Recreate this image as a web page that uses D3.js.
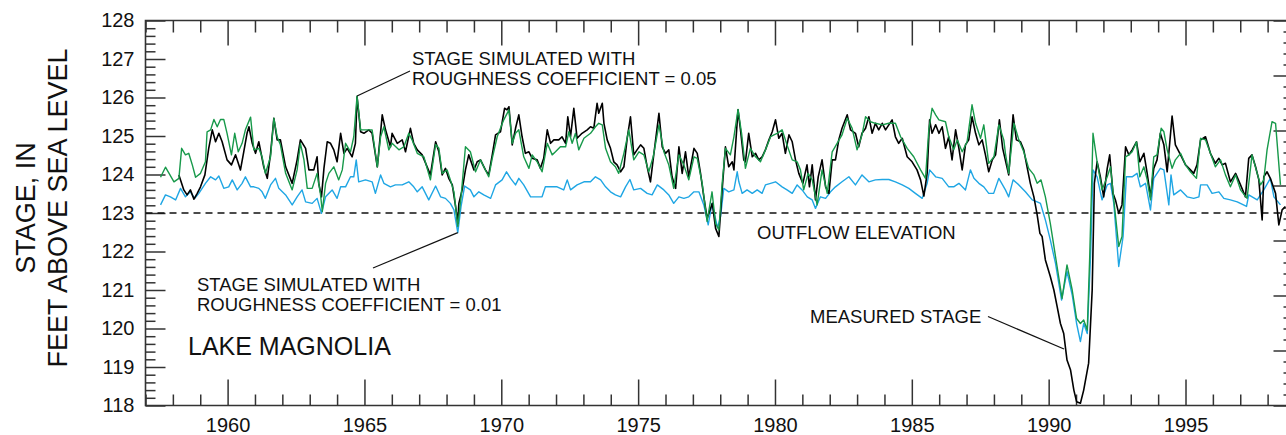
<!DOCTYPE html>
<html>
<head>
<meta charset="utf-8">
<script src="https://cdn.jsdelivr.net/npm/d3@7"></script>
<style>
  html, body { margin: 0; padding: 0; background: #fff; }
  svg { display: block; font-family: "Liberation Sans", Arial, Helvetica, sans-serif; }
</style>
</head>
<body>
<svg id="chart" width="1286" height="435"></svg>
<script>
// Lake Magnolia stage, measured and simulated, in feet above sea level.
// Each series is a list of [year, stage] pairs.

const measuredStage = [
  [1958.22,123.99],[1958.40,123.60],[1958.52,123.47],[1958.64,123.60],[1958.77,123.36],[1958.89,123.51],
  [1959.01,123.68],[1959.17,123.99],[1959.31,124.68],[1959.44,125.16],[1959.56,124.85],[1959.68,125.07],
  [1959.80,124.85],[1959.98,124.38],[1960.14,124.25],[1960.29,124.51],[1960.47,124.12],[1960.59,124.59],
  [1960.71,125.07],[1960.78,125.24],[1960.90,124.81],[1961.02,124.55],[1961.14,124.85],[1961.32,124.20],
  [1961.45,123.90],[1961.57,124.55],[1961.69,125.46],[1961.81,124.90],[1961.93,124.90],[1962.12,124.20],
  [1962.36,123.77],[1962.54,124.38],[1962.66,124.90],[1962.85,124.68],[1962.97,124.12],[1963.15,124.12],
  [1963.27,124.46],[1963.33,123.77],[1963.43,123.42],[1963.52,124.16],[1963.64,124.85],[1963.76,124.81],
  [1963.88,124.64],[1964.00,124.33],[1964.13,125.07],[1964.25,124.55],[1964.37,124.68],[1964.55,124.46],
  [1964.67,124.81],[1964.73,126.02],[1964.86,125.11],[1964.98,125.07],[1965.16,125.16],[1965.28,125.07],
  [1965.47,124.20],[1965.65,125.55],[1965.77,125.16],[1965.95,124.72],[1966.01,125.07],[1966.20,124.81],
  [1966.38,124.90],[1966.50,124.59],[1966.68,125.20],[1966.80,124.81],[1966.93,124.64],[1967.11,124.51],
  [1967.41,123.99],[1967.60,124.85],[1967.72,124.59],[1967.84,123.99],[1967.96,124.16],[1968.08,123.90],
  [1968.21,123.73],[1968.33,123.17],[1968.41,122.73],[1968.45,123.25],[1968.57,123.60],[1968.69,124.12],
  [1968.81,124.51],[1969.00,124.12],[1969.12,124.33],[1969.24,124.38],[1969.42,124.12],[1969.54,123.99],
  [1969.67,124.51],[1969.79,125.03],[1969.97,125.11],[1970.12,125.72],[1970.21,125.68],[1970.28,125.76],
  [1970.40,124.77],[1970.52,125.20],[1970.64,125.55],[1970.76,124.98],[1970.88,124.55],[1971.01,124.59],
  [1971.13,124.42],[1971.31,124.38],[1971.43,124.16],[1971.55,124.42],[1971.68,125.16],[1971.80,124.81],
  [1971.92,124.90],[1972.10,124.90],[1972.22,124.98],[1972.35,124.81],[1972.43,125.50],[1972.53,124.98],
  [1972.65,125.72],[1972.77,124.94],[1972.95,125.07],[1973.14,125.16],[1973.26,125.24],[1973.38,125.20],
  [1973.50,125.85],[1973.56,125.59],[1973.69,125.85],[1973.75,125.33],[1973.87,124.90],[1973.99,124.68],
  [1974.11,124.33],[1974.23,124.25],[1974.36,124.07],[1974.48,124.20],[1974.60,124.94],[1974.72,125.50],
  [1974.84,124.51],[1974.96,124.64],[1975.09,124.77],[1975.21,124.68],[1975.33,124.20],[1975.45,123.81],
  [1975.57,124.51],[1975.76,125.59],[1975.88,124.72],[1976.00,124.55],[1976.12,124.64],[1976.24,123.94],
  [1976.37,123.64],[1976.49,124.72],[1976.61,124.03],[1976.73,124.59],[1976.85,123.94],[1977.04,124.68],
  [1977.16,124.55],[1977.28,124.03],[1977.40,123.42],[1977.52,122.86],[1977.71,123.25],[1977.83,122.60],
  [1977.95,122.39],[1978.07,123.60],[1978.19,124.72],[1978.31,124.20],[1978.44,124.33],[1978.50,124.12],
  [1978.65,125.68],[1978.74,125.16],[1978.86,124.38],[1978.92,124.33],[1979.04,125.07],[1979.17,124.46],
  [1979.29,124.55],[1979.41,124.38],[1979.53,124.46],[1979.65,124.64],[1979.78,124.90],[1979.90,125.11],
  [1980.02,125.42],[1980.14,124.94],[1980.26,125.07],[1980.38,124.55],[1980.51,125.03],[1980.63,124.85],
  [1980.75,124.38],[1980.87,124.03],[1981.02,123.77],[1981.17,124.25],[1981.26,123.68],[1981.36,124.25],
  [1981.48,123.34],[1981.58,123.94],[1981.72,124.38],[1981.85,123.68],[1981.97,123.51],[1982.09,124.38],
  [1982.21,124.38],[1982.33,124.90],[1982.45,125.20],[1982.64,125.55],[1982.76,125.16],[1982.94,125.07],
  [1983.06,124.72],[1983.18,125.07],[1983.31,125.20],[1983.43,125.50],[1983.55,125.07],[1983.67,125.33],
  [1983.79,125.16],[1983.92,125.33],[1984.04,125.16],[1984.16,125.29],[1984.28,125.42],[1984.40,124.98],
  [1984.52,124.81],[1984.65,124.94],[1984.83,124.46],[1985.01,124.33],[1985.19,124.12],[1985.32,123.86],
  [1985.44,123.44],[1985.56,124.03],[1985.65,125.42],[1985.74,125.07],[1985.87,125.29],[1985.99,125.07],
  [1986.11,125.24],[1986.23,124.68],[1986.35,124.98],[1986.47,124.38],[1986.60,125.16],[1986.72,124.68],
  [1986.84,124.12],[1986.96,124.77],[1987.08,124.90],[1987.20,125.50],[1987.33,125.07],[1987.45,124.77],
  [1987.57,124.90],[1987.69,124.51],[1987.81,124.07],[1987.94,124.38],[1988.06,124.51],[1988.20,125.42],
  [1988.32,124.68],[1988.54,123.99],[1988.70,125.55],[1988.82,124.90],[1988.97,124.85],[1989.09,124.64],
  [1989.21,124.20],[1989.33,123.77],[1989.46,123.42],[1989.58,122.95],[1989.68,122.47],[1989.76,122.39],
  [1989.88,121.78],[1990.06,121.35],[1990.19,121.00],[1990.31,120.57],[1990.43,120.13],[1990.55,119.87],
  [1990.67,119.18],[1990.80,118.92],[1990.92,118.40],[1991.02,118.10],[1991.16,118.06],[1991.28,118.40],
  [1991.46,119.10],[1991.59,121.00],[1991.67,123.77],[1991.77,124.33],[1991.89,123.94],[1992.01,123.42],
  [1992.14,124.16],[1992.23,124.51],[1992.35,123.51],[1992.44,123.34],[1992.56,122.99],[1992.68,123.21],
  [1992.81,124.72],[1992.93,124.51],[1993.05,124.64],[1993.21,124.85],[1993.33,124.33],[1993.48,124.55],
  [1993.60,124.03],[1993.72,123.42],[1993.84,124.16],[1993.96,124.38],[1994.08,125.07],[1994.21,124.77],
  [1994.33,124.07],[1994.51,125.52],[1994.63,124.77],[1994.82,124.51],[1995.00,124.25],[1995.18,124.12],
  [1995.30,124.03],[1995.42,124.25],[1995.55,124.90],[1995.73,124.98],[1995.91,124.55],[1996.09,124.29],
  [1996.22,124.42],[1996.34,124.25],[1996.46,124.29],[1996.64,123.81],[1996.83,124.03],[1997.01,123.73],
  [1997.19,123.42],[1997.31,124.42],[1997.43,124.51],[1997.56,124.20],[1997.68,123.86],[1997.80,122.82],
  [1997.86,123.94],[1997.98,124.07],[1998.10,123.90],[1998.29,123.51],[1998.41,122.69],[1998.53,123.08],
  [1998.65,123.17]
];

// Simulated with roughness coefficient 0.05
const simulatedN005 = [
  [1957.55,123.93],[1957.73,124.19],[1958.04,123.81],[1958.22,123.90],[1958.32,124.68],[1958.46,124.51],
  [1958.58,124.55],[1958.71,124.25],[1958.83,123.93],[1959.01,124.03],[1959.19,124.33],[1959.25,125.11],
  [1959.38,125.16],[1959.50,125.43],[1959.62,125.24],[1959.74,125.43],[1959.86,125.43],[1959.98,125.07],
  [1960.14,124.51],[1960.26,125.07],[1960.39,124.59],[1960.53,124.81],[1960.65,125.16],[1960.84,125.49],
  [1960.96,124.64],[1961.14,124.68],[1961.26,124.46],[1961.38,124.03],[1961.57,124.46],[1961.69,125.46],
  [1961.81,124.98],[1961.93,124.77],[1962.12,124.03],[1962.36,123.60],[1962.54,124.12],[1962.66,124.81],
  [1962.79,124.38],[1962.91,123.64],[1963.09,123.64],[1963.27,124.03],[1963.39,123.51],[1963.46,123.04],
  [1963.58,123.77],[1963.70,124.03],[1963.88,124.20],[1964.06,123.86],[1964.19,124.12],[1964.31,124.81],
  [1964.49,124.59],[1964.61,124.98],[1964.73,126.04],[1964.86,125.16],[1965.04,125.16],[1965.28,125.16],
  [1965.47,124.20],[1965.59,124.98],[1965.71,125.24],[1965.89,124.64],[1966.01,124.81],[1966.26,124.64],
  [1966.44,124.72],[1966.62,125.07],[1966.74,124.90],[1966.93,124.55],[1967.17,124.46],[1967.41,123.86],
  [1967.60,124.78],[1967.72,124.68],[1967.84,124.03],[1968.02,124.12],[1968.14,123.86],[1968.27,123.55],
  [1968.41,122.65],[1968.53,123.42],[1968.69,124.72],[1968.87,124.59],[1969.06,124.07],[1969.24,124.38],
  [1969.36,124.20],[1969.54,123.94],[1969.67,124.42],[1969.85,124.98],[1970.09,125.42],[1970.28,125.68],
  [1970.40,124.81],[1970.52,125.07],[1970.64,125.16],[1970.82,124.46],[1971.01,124.16],[1971.13,124.51],
  [1971.31,124.33],[1971.49,124.07],[1971.68,124.81],[1971.86,124.51],[1971.98,124.59],[1972.16,124.72],
  [1972.35,124.72],[1972.47,125.11],[1972.59,124.81],[1972.71,125.07],[1972.83,124.64],[1973.02,124.94],
  [1973.26,125.07],[1973.44,125.24],[1973.56,125.33],[1973.69,125.29],[1973.81,124.68],[1973.99,124.33],
  [1974.17,124.20],[1974.29,124.03],[1974.48,124.55],[1974.66,125.16],[1974.84,124.38],[1975.03,124.59],
  [1975.21,124.51],[1975.39,124.07],[1975.55,124.46],[1975.76,125.29],[1975.94,124.59],[1976.12,124.25],
  [1976.30,123.64],[1976.49,124.51],[1976.67,124.25],[1976.85,123.86],[1977.04,124.46],[1977.16,124.42],
  [1977.34,123.77],[1977.52,122.78],[1977.70,123.55],[1977.83,122.73],[1977.95,122.56],[1978.07,123.77],
  [1978.19,124.68],[1978.37,124.51],[1978.50,124.98],[1978.65,125.69],[1978.78,125.07],[1978.92,124.16],
  [1979.10,124.68],[1979.29,124.46],[1979.47,124.33],[1979.65,124.64],[1979.84,124.98],[1979.96,125.03],
  [1980.08,125.07],[1980.26,125.16],[1980.44,124.77],[1980.63,124.38],[1980.81,124.33],[1980.93,124.12],
  [1981.05,123.60],[1981.21,124.03],[1981.36,123.86],[1981.54,123.21],[1981.72,124.12],[1981.91,123.51],
  [1982.09,124.59],[1982.27,124.81],[1982.45,125.03],[1982.64,125.46],[1982.82,125.20],[1983.00,124.64],
  [1983.18,125.03],[1983.31,125.50],[1983.49,125.37],[1983.67,125.33],[1983.92,125.29],[1984.16,125.33],
  [1984.40,125.33],[1984.59,124.98],[1984.83,124.68],[1985.07,124.46],[1985.32,124.12],[1985.50,123.90],
  [1985.62,125.16],[1985.74,125.72],[1985.87,125.55],[1985.99,125.42],[1986.23,125.37],[1986.35,124.98],
  [1986.53,124.64],[1986.66,124.90],[1986.84,124.59],[1987.02,124.85],[1987.20,125.81],[1987.33,125.33],
  [1987.51,124.94],[1987.63,125.29],[1987.81,124.29],[1988.00,124.46],[1988.18,125.29],[1988.36,124.90],
  [1988.42,124.55],[1988.54,124.03],[1988.73,125.33],[1988.91,124.90],[1989.09,124.59],[1989.27,124.16],
  [1989.46,123.99],[1989.58,123.77],[1989.72,123.86],[1989.88,123.42],[1990.06,122.73],[1990.25,121.87],
  [1990.49,120.78],[1990.67,121.65],[1990.86,121.00],[1991.02,120.26],[1991.16,120.13],[1991.28,120.22],
  [1991.41,119.96],[1991.50,121.87],[1991.62,125.07],[1991.77,124.33],[1991.95,123.60],[1992.14,123.94],
  [1992.26,124.20],[1992.38,123.34],[1992.56,122.13],[1992.68,122.39],[1992.81,124.46],[1992.93,124.51],
  [1993.05,124.59],[1993.21,124.85],[1993.33,123.94],[1993.48,124.20],[1993.60,123.86],[1993.72,123.34],
  [1993.84,124.46],[1993.96,124.51],[1994.11,125.20],[1994.21,125.11],[1994.33,124.64],[1994.51,124.16],
  [1994.63,124.38],[1994.82,124.55],[1995.00,124.25],[1995.18,124.07],[1995.40,123.90],[1995.55,124.94],
  [1995.73,124.90],[1995.91,124.55],[1996.09,124.20],[1996.28,124.38],[1996.46,123.99],[1996.64,123.68],
  [1996.83,123.99],[1997.01,123.60],[1997.25,123.38],[1997.43,124.51],[1997.62,124.03],[1997.74,123.73],
  [1997.86,123.86],[1997.98,124.64],[1998.16,125.37],[1998.29,125.33],[1998.47,123.73]
];

// Simulated with roughness coefficient 0.01
const simulatedN001 = [
  [1957.55,123.21],[1957.73,123.47],[1957.91,123.42],[1958.10,123.34],[1958.28,123.64],[1958.46,123.42],
  [1958.64,123.55],[1958.80,123.38],[1958.95,123.51],[1959.19,123.77],[1959.38,123.94],[1959.56,123.86],
  [1959.68,123.96],[1959.86,123.64],[1960.04,123.68],[1960.17,123.86],[1960.35,123.60],[1960.53,123.77],
  [1960.65,123.94],[1960.84,123.68],[1960.96,123.68],[1961.14,123.64],[1961.26,123.55],[1961.38,123.38],
  [1961.57,123.73],[1961.75,123.90],[1961.87,123.64],[1962.12,123.47],[1962.36,123.21],[1962.54,123.42],
  [1962.72,123.60],[1962.85,123.29],[1963.09,123.25],[1963.27,123.38],[1963.43,122.99],[1963.58,123.42],
  [1963.82,123.60],[1964.00,123.38],[1964.13,123.68],[1964.31,123.68],[1964.49,123.94],[1964.61,123.94],
  [1964.70,124.38],[1964.79,123.81],[1965.04,123.86],[1965.28,123.81],[1965.40,123.51],[1965.59,123.99],
  [1965.71,123.77],[1965.95,123.68],[1966.13,123.73],[1966.38,123.73],[1966.62,123.81],[1966.80,123.68],
  [1966.93,123.55],[1967.11,123.68],[1967.35,123.34],[1967.60,123.70],[1967.78,123.42],[1967.96,123.38],
  [1968.14,123.25],[1968.27,123.08],[1968.41,122.49],[1968.53,123.17],[1968.66,123.70],[1968.87,123.60],
  [1969.00,123.42],[1969.18,123.55],[1969.36,123.47],[1969.61,123.38],[1969.79,123.73],[1970.03,123.86],
  [1970.19,124.07],[1970.34,123.90],[1970.52,123.73],[1970.64,123.90],[1970.82,123.73],[1971.07,123.42],
  [1971.31,123.42],[1971.49,123.42],[1971.61,123.68],[1971.80,123.68],[1972.04,123.68],[1972.28,123.60],
  [1972.41,123.86],[1972.53,123.60],[1972.77,123.73],[1973.02,123.81],[1973.26,123.81],[1973.44,123.94],
  [1973.63,123.86],[1973.81,123.68],[1973.99,123.55],[1974.17,123.47],[1974.36,123.42],[1974.54,123.68],
  [1974.70,123.87],[1974.84,123.60],[1975.09,123.64],[1975.33,123.51],[1975.51,123.47],[1975.70,123.73],
  [1975.94,123.60],[1976.12,123.47],[1976.30,123.25],[1976.49,123.42],[1976.67,123.38],[1976.85,123.42],
  [1977.04,123.55],[1977.22,123.55],[1977.40,123.21],[1977.56,122.69],[1977.70,123.25],[1977.90,122.62],
  [1978.01,122.90],[1978.13,123.64],[1978.31,123.55],[1978.50,123.60],[1978.62,124.07],[1978.68,123.81],
  [1978.80,123.51],[1978.98,123.60],[1979.17,123.51],[1979.35,123.60],[1979.53,123.51],[1979.65,123.73],
  [1979.84,123.77],[1980.02,123.81],[1980.26,123.68],[1980.44,123.60],[1980.63,123.51],[1980.81,123.73],
  [1980.99,123.60],[1981.18,123.42],[1981.36,123.34],[1981.48,123.12],[1981.66,123.42],[1981.85,123.38],
  [1982.03,123.55],[1982.21,123.68],[1982.45,123.81],[1982.70,123.94],[1982.94,123.73],[1983.18,123.99],
  [1983.43,123.81],[1983.67,123.86],[1983.92,123.87],[1984.16,123.87],[1984.40,123.81],[1984.65,123.73],
  [1984.89,123.64],[1985.13,123.51],[1985.38,123.38],[1985.56,123.77],[1985.65,124.12],[1985.87,123.94],
  [1986.11,123.90],[1986.35,123.68],[1986.53,123.68],[1986.72,123.77],[1986.96,123.60],[1987.14,124.12],
  [1987.27,123.90],[1987.45,123.77],[1987.63,123.68],[1987.81,123.51],[1987.99,123.51],[1988.18,123.90],
  [1988.42,123.60],[1988.54,123.42],[1988.70,123.86],[1988.91,123.73],[1989.15,123.55],[1989.40,123.34],
  [1989.58,123.29],[1989.70,123.25],[1989.88,122.82],[1990.06,122.30],[1990.25,121.69],[1990.47,120.74],
  [1990.67,121.48],[1990.86,120.87],[1991.02,120.13],[1991.16,119.66],[1991.28,120.13],[1991.41,119.87],
  [1991.53,121.87],[1991.62,124.12],[1991.77,123.94],[1991.95,123.34],[1992.14,123.73],[1992.26,123.77],
  [1992.38,123.25],[1992.56,121.61],[1992.72,122.39],[1992.84,123.94],[1993.05,123.94],[1993.23,124.03],
  [1993.35,123.68],[1993.54,123.77],[1993.72,123.08],[1993.84,123.90],[1994.08,124.16],[1994.21,124.12],
  [1994.39,123.21],[1994.47,123.99],[1994.57,123.47],[1994.82,123.60],[1995.06,123.42],[1995.30,123.38],
  [1995.49,123.42],[1995.55,123.73],[1995.79,123.73],[1995.97,123.51],[1996.22,123.55],[1996.40,123.38],
  [1996.64,123.34],[1996.89,123.29],[1997.23,123.17],[1997.31,123.47],[1997.62,123.34],[1997.86,123.60],
  [1998.10,123.90],[1998.23,123.42],[1998.47,123.21]
];

const outflowElevation = 123;

// Axis tick values
const yMajorTicks = [118, 119, 120, 121, 122, 123, 124, 125, 126, 127, 128];
const yMinorTicks = d3.range(118, 128.001, 0.2).map(v => +v.toFixed(1)).filter(v => !Number.isInteger(v));
const xMajorTicks = [1960, 1965, 1970, 1975, 1980, 1985, 1990, 1995];
const xMinorTicks = d3.range(1957, 1999).filter(v => v % 5 !== 0);
// Right-hand scale (adjoining panel), seven divisions
const rMajorTicks = [0, 1, 2, 3, 4, 5, 6, 7];
const rMinorTicks = d3.range(0, 7.001, 0.2).map(v => +v.toFixed(1)).filter(v => !Number.isInteger(v));

(function draw() {
  const svg = d3.select("#chart");
  const pl = 145.5, pr = 1286.5, pt = 20.5, pb = 405.5;

  const x = d3.scaleLinear().domain([1957, 1998.69]).range([pl, pr]);
  const y = d3.scaleLinear().domain([118, 128]).range([pb, pt]);
  const yR = d3.scaleLinear().domain([0, 7]).range([pb, pt]);

  const axisColor = "#333";

  function styleAxis(g) {
    g.selectAll("path.domain").remove();
    g.selectAll(".tick line").attr("stroke", axisColor).attr("stroke-width", 1.5);
    g.selectAll(".tick text").attr("fill", "#111");
  }

  // Left axis: major and minor ticks pointing inward
  svg.append("g").attr("transform", `translate(${pl},0)`)
    .call(d3.axisLeft(y).tickValues(yMajorTicks).tickSize(-20).tickPadding(11).tickFormat(d3.format("d")))
    .call(styleAxis)
    .call(g => g.selectAll(".tick text").attr("font-size", 20));
  svg.append("g").attr("transform", `translate(${pl},0)`)
    .call(d3.axisLeft(y).tickValues(yMinorTicks).tickSize(-10).tickFormat(""))
    .call(styleAxis);

  // Right axis ticks
  svg.append("g").attr("transform", `translate(${pr},0)`)
    .call(d3.axisRight(yR).tickValues(rMajorTicks).tickSize(-13).tickFormat(""))
    .call(styleAxis);
  svg.append("g").attr("transform", `translate(${pr},0)`)
    .call(d3.axisRight(yR).tickValues(rMinorTicks).tickSize(-3).tickFormat(""))
    .call(styleAxis);

  // Bottom axis
  svg.append("g").attr("transform", `translate(0,${pb})`)
    .call(d3.axisBottom(x).tickValues(xMajorTicks).tickSize(-26).tickPadding(12).tickFormat(d3.format("d")))
    .call(styleAxis)
    .call(g => g.selectAll(".tick text").attr("font-size", 20));
  svg.append("g").attr("transform", `translate(0,${pb})`)
    .call(d3.axisBottom(x).tickValues(xMinorTicks).tickSize(-11).tickFormat(""))
    .call(styleAxis);

  // Top axis
  svg.append("g").attr("transform", `translate(0,${pt})`)
    .call(d3.axisTop(x).tickValues(xMajorTicks).tickSize(-25).tickFormat(""))
    .call(styleAxis);
  svg.append("g").attr("transform", `translate(0,${pt})`)
    .call(d3.axisTop(x).tickValues(xMinorTicks).tickSize(-12).tickFormat(""))
    .call(styleAxis);

  // Frame lines
  svg.append("path")
    .attr("d", `M${pr},${pt}H${pl}V${pb}H${pr}`)
    .attr("fill", "none").attr("stroke", axisColor).attr("stroke-width", 1.6);

  // Outflow elevation (dashed)
  svg.append("line")
    .attr("x1", pl).attr("x2", pr)
    .attr("y1", y(outflowElevation)).attr("y2", y(outflowElevation))
    .attr("stroke", "#111").attr("stroke-width", 1.3).attr("stroke-dasharray", "7,5");

  const line = d3.line().x(d => x(d[0])).y(d => y(d[1]));

  svg.append("path").datum(simulatedN001)
    .attr("d", line).attr("fill", "none")
    .attr("stroke", "#1fa6e4").attr("stroke-width", 1.4).attr("stroke-linejoin", "round");
  svg.append("path").datum(measuredStage)
    .attr("d", line).attr("fill", "none")
    .attr("stroke", "#000").attr("stroke-width", 1.6).attr("stroke-linejoin", "round");
  svg.append("path").datum(simulatedN005)
    .attr("d", line).attr("fill", "none")
    .attr("stroke", "#17994a").attr("stroke-width", 1.4).attr("stroke-linejoin", "round");

  // Annotations
  const ann = svg.append("g").attr("fill", "#111").attr("font-size", 18.5);

  ann.append("text").attr("x", 412).attr("y", 65).text("STAGE SIMULATED WITH");
  ann.append("text").attr("x", 412).attr("y", 85).text("ROUGHNESS COEFFICIENT = 0.05");
  ann.append("line").attr("x1", 410).attr("y1", 71).attr("x2", x(1964.73)).attr("y2", y(126.04))
    .attr("stroke", "#111").attr("stroke-width", 1.2);

  ann.append("text").attr("x", 197).attr("y", 290.5).text("STAGE SIMULATED WITH");
  ann.append("text").attr("x", 197).attr("y", 311).text("ROUGHNESS COEFFICIENT = 0.01");
  ann.append("line").attr("x1", 373).attr("y1", 268).attr("x2", x(1968.41)).attr("y2", y(122.49))
    .attr("stroke", "#111").attr("stroke-width", 1.2);

  ann.append("text").attr("x", 757).attr("y", 238.5).text("OUTFLOW ELEVATION");

  ann.append("text").attr("x", 810).attr("y", 323).text("MEASURED STAGE");
  ann.append("line").attr("x1", 988).attr("y1", 316.5).attr("x2", 1064).attr("y2", 349)
    .attr("stroke", "#111").attr("stroke-width", 1.2);

  svg.append("text").attr("x", 188).attr("y", 355).attr("font-size", 25).attr("fill", "#111")
    .text("LAKE MAGNOLIA");

  // Y-axis title
  const yTitle = svg.append("g").attr("transform", "translate(0,208) rotate(-90)")
    .attr("text-anchor", "middle").attr("font-size", 27).attr("fill", "#111");
  yTitle.append("text").attr("x", 0).attr("y", 35).text("STAGE, IN");
  yTitle.append("text").attr("x", 0).attr("y", 67).text("FEET ABOVE SEA LEVEL");
})();
</script>
</body>
</html>
